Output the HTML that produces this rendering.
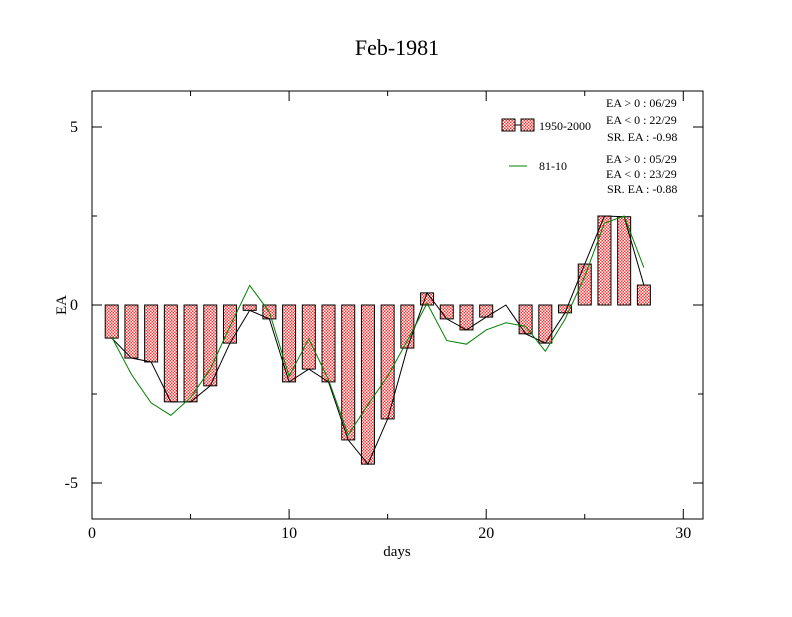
<!DOCTYPE html>
<html><head><meta charset="utf-8"><style>
body{margin:0;background:#fff}
svg text{font-family:"Liberation Serif",serif;fill:#000}
</style></head><body>
<svg id="c" width="792" height="612" xmlns="http://www.w3.org/2000/svg">
<defs><pattern id="chk" width="3" height="3" patternUnits="userSpaceOnUse"><rect width="3" height="3" fill="#ff3030"/><rect width="1.5" height="1.5" fill="#fff"/><rect x="1.5" y="1.5" width="1.5" height="1.5" fill="#fff"/></pattern></defs>
<text x="397" y="55" font-size="22" text-anchor="middle">Feb-1981</text>
<rect x="92" y="91" width="611" height="428" fill="none" stroke="#000"/>
<g id="ticks"></g>
<g id="marks"></g>
<text x="397" y="556" font-size="15" text-anchor="middle">days</text>
<text x="66" y="305" font-size="15" text-anchor="middle" transform="rotate(-90 66 305)">EA</text>
<g>
<line x1="509" y1="125" x2="527" y2="125" stroke="#000"/>
<rect x="502" y="119" width="13" height="12" fill="url(#chk)" stroke="#000"/>
<rect x="521" y="119" width="13" height="12" fill="url(#chk)" stroke="#000"/>
<text x="539" y="130" font-size="12">1950-2000</text>
<line x1="509" y1="166" x2="527" y2="166" stroke="#008000"/>
<text x="539" y="170" font-size="12">81-10</text>
<text x="606" y="107" font-size="12">EA &gt; 0 : 06/29</text>
<text x="606" y="124" font-size="12">EA &lt; 0 : 22/29</text>
<text x="607" y="141" font-size="12">SR. EA : -0.98</text>
<text x="606" y="163" font-size="12">EA &gt; 0 : 05/29</text>
<text x="606" y="178" font-size="12">EA &lt; 0 : 23/29</text>
<text x="607" y="193" font-size="12">SR. EA : -0.88</text>
</g>
</svg>
<script>
const days=[1,2,3,4,5,6,7,8,9,10,11,12,13,14,15,16,17,18,19,20,21,22,23,24,25,26,27,28];
const ea1950=[-0.93,-1.49,-1.6,-2.72,-2.72,-2.27,-1.07,-0.15,-0.39,-2.16,-1.8,-2.16,-3.79,-4.47,-3.2,-1.21,0.34,-0.39,-0.7,-0.34,0.0,-0.81,-1.07,-0.22,1.15,2.5,2.48,0.56];
const ea8110=[-0.9,-1.95,-2.75,-3.1,-2.6,-1.8,-0.6,0.55,-0.2,-2.0,-0.95,-2.1,-3.65,-2.8,-2.0,-1.0,0.05,-1.0,-1.1,-0.7,-0.5,-0.6,-1.3,-0.4,0.8,2.3,2.5,1.05];
const xTicks=[0,10,20,30];
const yTicks=[-5,0,5];
const X=v=>92+v*(611/31);
const Y=v=>305-v*35.6;
const NS='http://www.w3.org/2000/svg';
function mk(t,a,p){const e=document.createElementNS(NS,t);for(const k in a)e.setAttribute(k,a[k]);p.appendChild(e);return e;}
const tg=document.getElementById('ticks'),mg=document.getElementById('marks');
for(let v=0;v<=30;v+=5){const L=v%10===0?10:5;
 const a=mk('line',{x1:X(v),x2:X(v),y1:519,y2:519-L,stroke:'#000'},tg);
 
 
 const b=mk('line',{x1:X(v),x2:X(v),y1:91,y2:91+L,stroke:'#000'},tg);
 
 }
xTicks.forEach(v=>{const t=mk('text',{x:X(v),y:538,'font-size':16,'text-anchor':'middle'},tg);t.textContent=v;
 
 });
for(let v=-5;v<=5;v+=2.5){const L=v%5===0?10:5;
 const a=mk('line',{x1:92,x2:92+L,y1:Y(v),y2:Y(v),stroke:'#000'},tg);
 
 
 const b=mk('line',{x1:703,x2:703-L,y1:Y(v),y2:Y(v),stroke:'#000'},tg);
 
 }
yTicks.forEach(v=>{const t=mk('text',{x:78,y:Y(v)+5,'font-size':16,'text-anchor':'end'},tg);t.textContent=v;
 
 });
days.forEach((d,i)=>{const v=ea1950[i];const y0=Y(Math.max(v,0)),h=Math.abs(Y(v)-Y(0));
 const r=mk('rect',{x:X(d)-6.5,y:y0,width:13,height:h,fill:'url(#chk)',stroke:'#000','stroke-width':1},mg);
 
 });
const p1=mk('polyline',{points:days.map((d,i)=>X(d)+','+Y(ea1950[i])).join(' '),fill:'none',stroke:'#000'},mg);


const p2=mk('polyline',{points:days.map((d,i)=>X(d)+','+Y(ea8110[i])).join(' '),fill:'none',stroke:'#008000'},mg);


</script>
</body></html>
